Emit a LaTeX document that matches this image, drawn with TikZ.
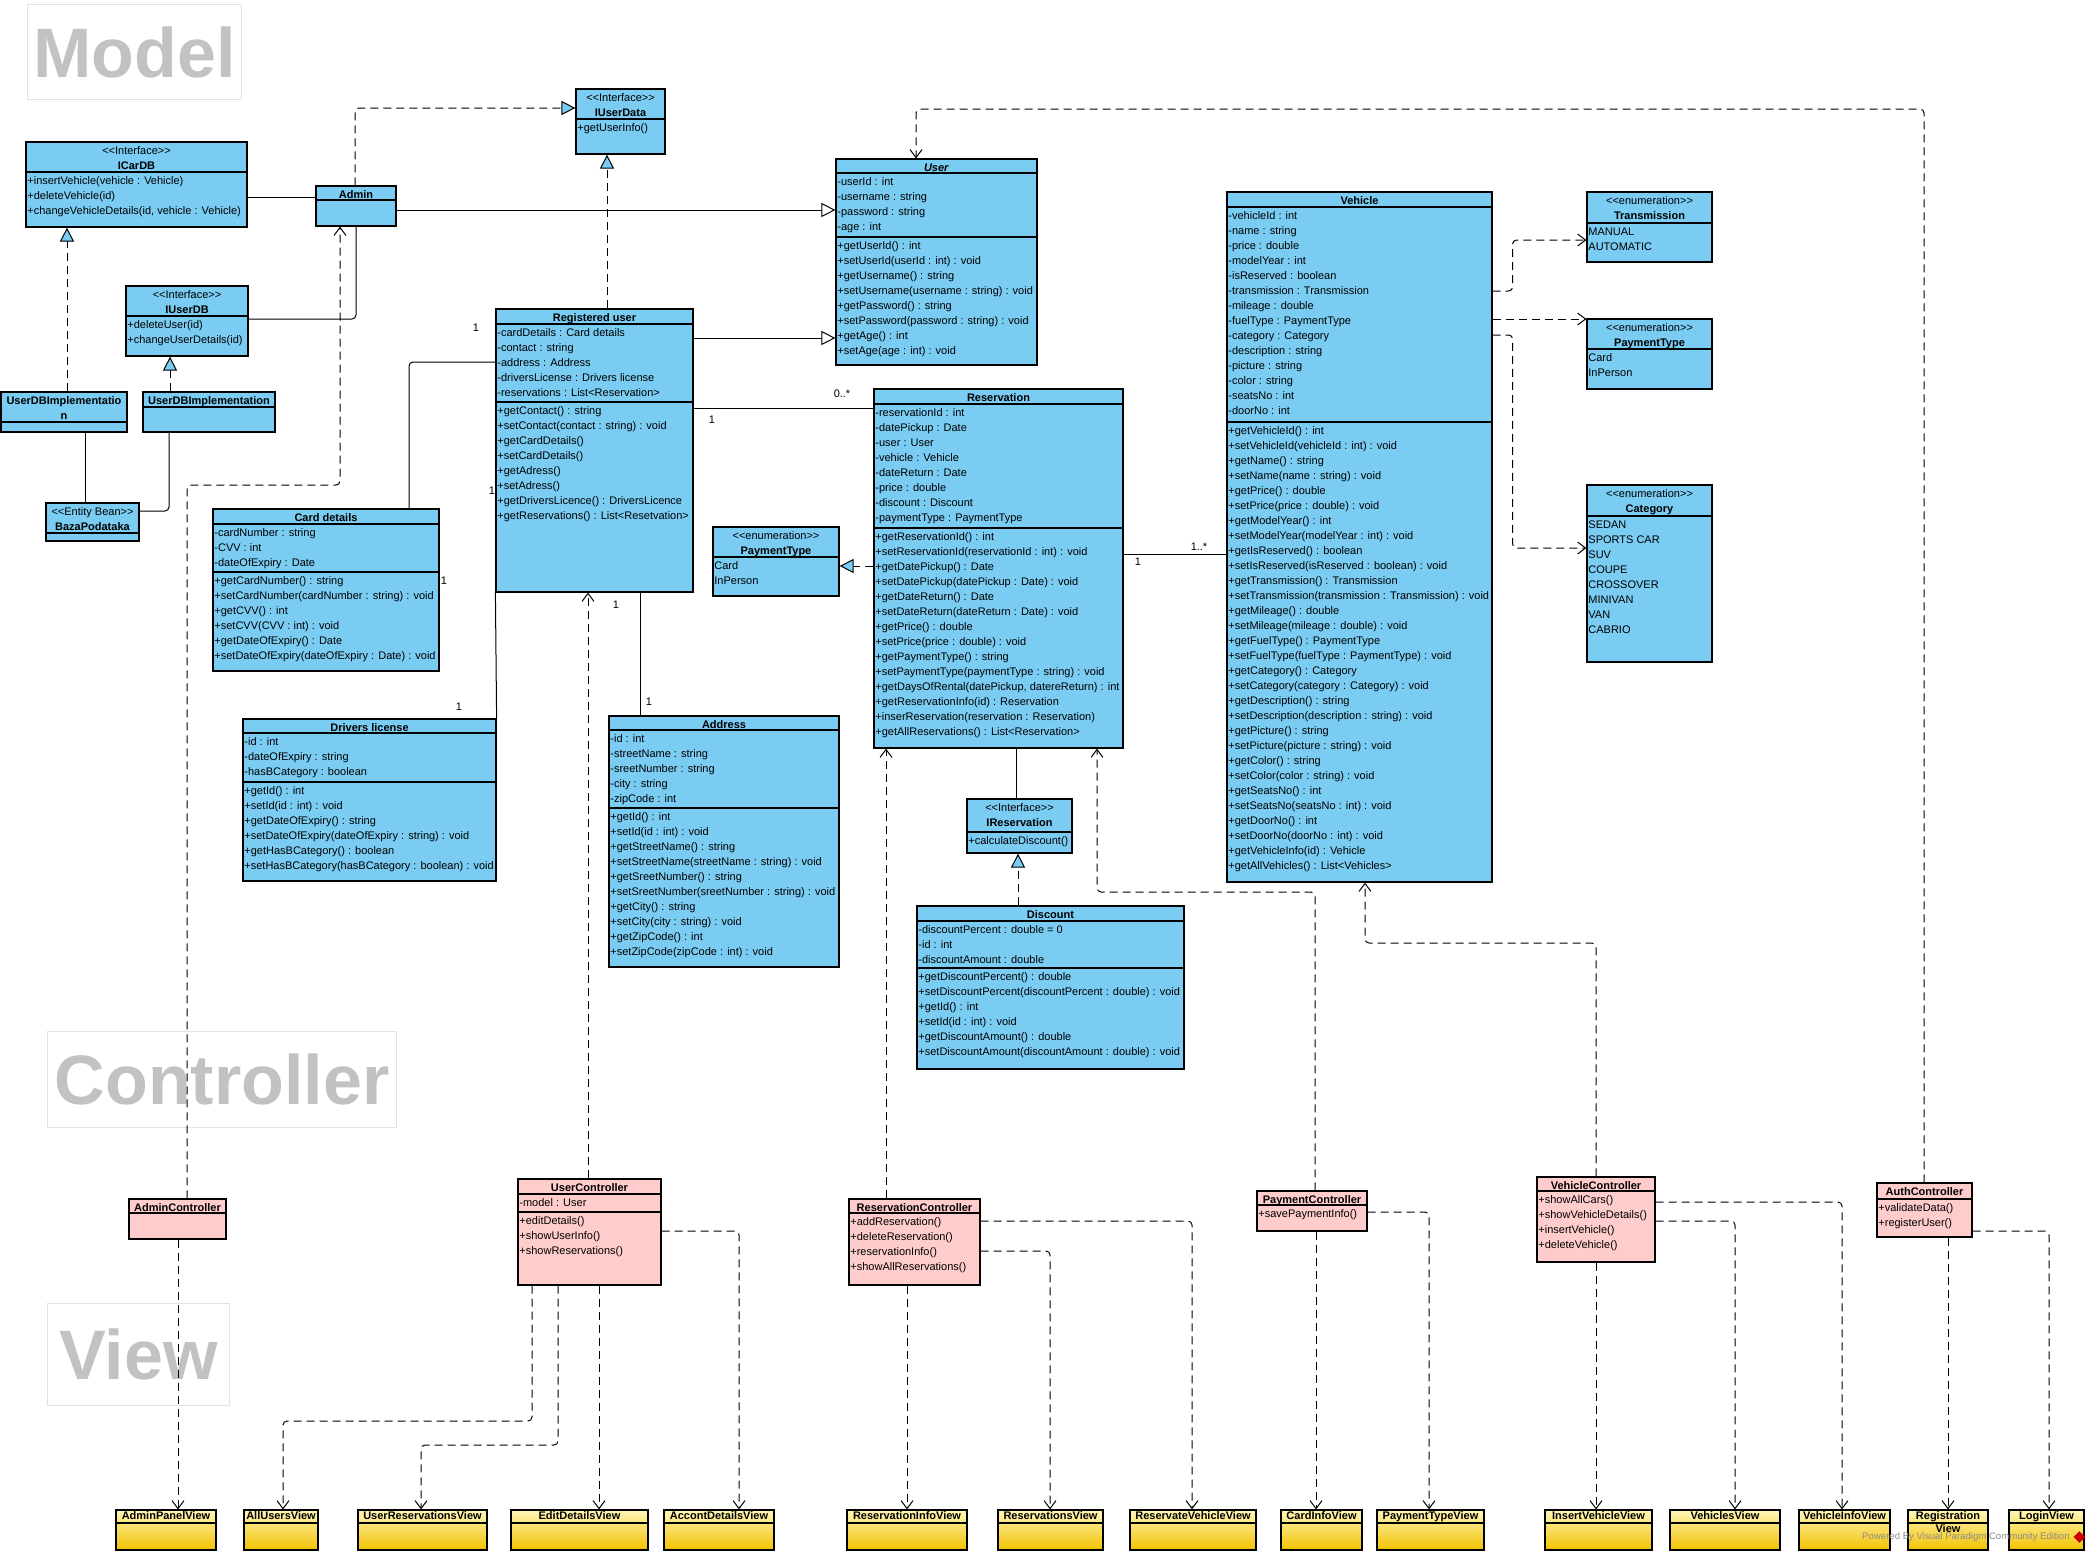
\documentclass[tikz,border=0pt]{standalone}
\usepackage{fontspec}
\setmainfont{Liberation Sans}
\usetikzlibrary{arrows.meta, fit, positioning, shapes.geometric}

\definecolor{clsblue}{HTML}{7ACCF2}
\definecolor{ctlpink}{HTML}{FFCCCC}
\definecolor{viewtop}{HTML}{FFF6B8}
\definecolor{viewbot}{HTML}{F2C200}
\definecolor{lblgray}{HTML}{C2C2C2}
\definecolor{lblframe}{HTML}{E2E2E2}

\newcommand{\stereo}[1]{<{}<#1>{}>}
% class box: name, style, x1, y1, x2, y2, header
\newcommand{\umlcls}[7]{%
  \node[#2, fit={(#3,#4) (#5,#6)}] (#1) {};
  \node[hdr, anchor=north] at (#1.north) {\strut#7};
}
% compartment: box, y of the line, members
\newcommand{\umlsep}[3]{%
  \draw[boxline] (#1.west |- 0,#2) -- (#1.east |- 0,#2);
  \node[members, anchor=north west] at (#1.west |- 0,#2) {\strut#3};
}
% view box: name, x1, x2, title
\newcommand{\umlview}[4]{%
  \node[viewbox, fit={(#2,1510) (#3,1550)}] (#1) {};
  \draw[boxline] (#1.west |- 0,1523) -- (#1.east |- 0,1523);
  \node[vhdr, anchor=north] at (#1.north) {\strut#4};
}

\tikzset{
  boxline/.style={line width=0.6pt},
  clsbox/.style={draw, boxline, fill=clsblue, inner sep=0pt},
  ctlbox/.style={draw, boxline, fill=ctlpink, inner sep=0pt},
  viewbox/.style={draw, boxline, top color=viewtop, bottom color=viewbot, inner sep=0pt},
  hdr/.style={font=\fontsize{5.5}{7.5}\selectfont, align=center, inner sep=1pt},
  vhdr/.style={font=\fontsize{5.5}{6.5}\selectfont\bfseries, align=center, inner sep=0.5pt},
  members/.style={font=\fontsize{5.5}{7.5}\selectfont, align=left, inner xsep=0.8pt, inner ysep=1pt},
  mult/.style={font=\fontsize{5.5}{7.5}\selectfont, inner sep=0pt},
  dashline/.style={dash pattern=on 4pt off 2.5pt},
  assoc/.style={line width=0.5pt},
  gen/.style={line width=0.5pt, -{Triangle[length=7pt, width=7pt, fill=white]}},
  real/.style={line width=0.5pt, dashline, -{Triangle[length=7pt, width=7pt, fill=clsblue]}},
  dep/.style={line width=0.5pt, dashline, rounded corners=2pt, -{Straight Barb[length=4pt, width=6pt]}},
  layerlbl/.style={draw=lblframe, line width=0.6pt, inner sep=0pt, anchor=north west,
    font=\fontsize{35}{40}\selectfont\bfseries, text=lblgray},
}

\begin{document}
\begin{tikzpicture}[x=0.5pt, y=-0.5pt]
  \fill[white] (0,0) rectangle (2092,1553);
  \useasboundingbox (0,0) rectangle (2092,1553);

  % layers
  \node[layerlbl, minimum width=107pt, minimum height=47.5pt] (lblmodel) at (27,4) {Model};
  \node[layerlbl, minimum width=174.5pt, minimum height=48pt] (lblctl) at (47,1031) {Controller};
  \node[layerlbl, minimum width=91pt, minimum height=51pt] (lblview) at (47,1303) {View};

  % ---------------- model ----------------
  \umlcls{icardb}{clsbox}{26}{142}{247}{227}{\stereo{Interface}\\\textbf{ICarDB}}
  \umlsep{icardb}{172}{+insertVehicle(vehicle : Vehicle)\\+deleteVehicle(id)\\+changeVehicleDetails(id, vehicle : Vehicle)}

  \umlcls{admin}{clsbox}{316}{186}{396}{226}{\textbf{Admin}}
  \umlsep{admin}{200}{}

  \umlcls{iuserdata}{clsbox}{576}{89}{665}{154}{\stereo{Interface}\\\textbf{IUserData}}
  \umlsep{iuserdata}{119}{+getUserInfo()}

  \umlcls{iuserdb}{clsbox}{126}{286}{248}{356}{\stereo{Interface}\\\textbf{IUserDB}}
  \umlsep{iuserdb}{316}{+deleteUser(id)\\+changeUserDetails(id)}

  \umlcls{impla}{clsbox}{1}{392}{127}{432}{\textbf{UserDBImplementatio}\\\textbf{n}}
  \umlsep{impla}{422}{}

  \umlcls{implb}{clsbox}{143}{392}{275}{432}{\textbf{UserDBImplementation}}
  \umlsep{implb}{407}{}

  \umlcls{baza}{clsbox}{46}{503}{139}{541}{\stereo{Entity Bean}\\\textbf{BazaPodataka}}
  \umlsep{baza}{533}{}

  \umlcls{user}{clsbox}{836}{159}{1037}{365}{\textbf{\textit{User}}}
  \umlsep{user}{173}{-userId : int\\-username : string\\-password : string\\-age : int}
  \umlsep{user}{237}{+getUserId() : int\\+setUserId(userId : int) : void\\+getUsername() : string\\+setUsername(username : string) : void\\+getPassword() : string\\+setPassword(password : string) : void\\+getAge() : int\\+setAge(age : int) : void}

  \umlcls{veh}{clsbox}{1227}{192}{1492}{882}{\textbf{Vehicle}}
  \umlsep{veh}{207}{-vehicleId : int\\-name : string\\-price : double\\-modelYear : int\\-isReserved : boolean\\-transmission : Transmission\\-mileage : double\\-fuelType : PaymentType\\-category : Category\\-description : string\\-picture : string\\-color : string\\-seatsNo : int\\-doorNo : int}
  \umlsep{veh}{422}{+getVehicleId() : int\\+setVehicleId(vehicleId : int) : void\\+getName() : string\\+setName(name : string) : void\\+getPrice() : double\\+setPrice(price : double) : void\\+getModelYear() : int\\+setModelYear(modelYear : int) : void\\+getIsReserved() : boolean\\+setIsReserved(isReserved : boolean) : void\\+getTransmission() : Transmission\\+setTransmission(transmission : Transmission) : void\\+getMileage() : double\\+setMileage(mileage : double) : void\\+getFuelType() : PaymentType\\+setFuelType(fuelType : PaymentType) : void\\+getCategory() : Category\\+setCategory(category : Category) : void\\+getDescription() : string\\+setDescription(description : string) : void\\+getPicture() : string\\+setPicture(picture : string) : void\\+getColor() : string\\+setColor(color : string) : void\\+getSeatsNo() : int\\+setSeatsNo(seatsNo : int) : void\\+getDoorNo() : int\\+setDoorNo(doorNo : int) : void\\+getVehicleInfo(id) : Vehicle\\+getAllVehicles() : List<Vehicles>}

  \umlcls{trans}{clsbox}{1587}{192}{1712}{262}{\stereo{enumeration}\\\textbf{Transmission}}
  \umlsep{trans}{223}{MANUAL\\AUTOMATIC}

  \umlcls{payenum}{clsbox}{1587}{319}{1712}{389}{\stereo{enumeration}\\\textbf{PaymentType}}
  \umlsep{payenum}{349}{Card\\InPerson}

  \umlcls{categ}{clsbox}{1587}{485}{1712}{662}{\stereo{enumeration}\\\textbf{Category}}
  \umlsep{categ}{516}{SEDAN\\SPORTS CAR\\SUV\\COUPE\\CROSSOVER\\MINIVAN\\VAN\\CABRIO}

  \umlcls{regu}{clsbox}{496}{309}{693}{592}{\textbf{Registered user}}
  \umlsep{regu}{324}{-cardDetails : Card details\\-contact : string\\-address : Address\\-driversLicense : Drivers license\\-reservations : List<Reservation>}
  \umlsep{regu}{402}{+getContact() : string\\+setContact(contact : string) : void\\+getCardDetails()\\+setCardDetails()\\+getAdress()\\+setAdress()\\+getDriversLicence() : DriversLicence\\+getReservations() : List<Resetvation>}

  \umlcls{card}{clsbox}{213}{509}{439}{671}{\textbf{Card details}}
  \umlsep{card}{524}{-cardNumber : string\\-CVV : int\\-dateOfExpiry : Date}
  \umlsep{card}{572}{+getCardNumber() : string\\+setCardNumber(cardNumber : string) : void\\+getCVV() : int\\+setCVV(CVV : int) : void\\+getDateOfExpiry() : Date\\+setDateOfExpiry(dateOfExpiry : Date) : void}

  \umlcls{paymid}{clsbox}{713}{527}{839}{596}{\stereo{enumeration}\\\textbf{PaymentType}}
  \umlsep{paymid}{557}{Card\\InPerson}

  \umlcls{resv}{clsbox}{874}{389}{1123}{748}{\textbf{Reservation}}
  \umlsep{resv}{404}{-reservationId : int\\-datePickup : Date\\-user : User\\-vehicle : Vehicle\\-dateReturn : Date\\-price : double\\-discount : Discount\\-paymentType : PaymentType}
  \umlsep{resv}{528}{+getReservationId() : int\\+setReservationId(reservationId : int) : void\\+getDatePickup() : Date\\+setDatePickup(datePickup : Date) : void\\+getDateReturn() : Date\\+setDateReturn(dateReturn : Date) : void\\+getPrice() : double\\+setPrice(price : double) : void\\+getPaymentType() : string\\+setPaymentType(paymentType : string) : void\\+getDaysOfRental(datePickup, datereReturn) : int\\+getReservationInfo(id) : Reservation\\+inserReservation(reservation : Reservation)\\+getAllReservations() : List<Reservation>}

  \umlcls{drv}{clsbox}{243}{719}{496}{881}{\textbf{Drivers license}}
  \umlsep{drv}{733}{-id : int\\-dateOfExpiry : string\\-hasBCategory : boolean}
  \umlsep{drv}{782}{+getId() : int\\+setId(id : int) : void\\+getDateOfExpiry() : string\\+setDateOfExpiry(dateOfExpiry : string) : void\\+getHasBCategory() : boolean\\+setHasBCategory(hasBCategory : boolean) : void}

  \umlcls{addr}{clsbox}{609}{716}{839}{967}{\textbf{Address}}
  \umlsep{addr}{730}{-id : int\\-streetName : string\\-sreetNumber : string\\-city : string\\-zipCode : int}
  \umlsep{addr}{808}{+getId() : int\\+setId(id : int) : void\\+getStreetName() : string\\+setStreetName(streetName : string) : void\\+getSreetNumber() : string\\+setSreetNumber(sreetNumber : string) : void\\+getCity() : string\\+setCity(city : string) : void\\+getZipCode() : int\\+setZipCode(zipCode : int) : void}

  \umlcls{ires}{clsbox}{967}{799}{1072}{853}{\stereo{Interface}\\\textbf{IReservation}}
  \umlsep{ires}{832}{+calculateDiscount()}

  \umlcls{disc}{clsbox}{917}{906}{1184}{1069}{\textbf{Discount}}
  \umlsep{disc}{921}{-discountPercent : double = 0\\-id : int\\-discountAmount : double}
  \umlsep{disc}{968}{+getDiscountPercent() : double\\+setDiscountPercent(discountPercent : double) : void\\+getId() : int\\+setId(id : int) : void\\+getDiscountAmount() : double\\+setDiscountAmount(discountAmount : double) : void}

  % ---------------- controllers ----------------
  \umlcls{actl}{ctlbox}{129}{1199}{226}{1239}{\textbf{AdminController}}
  \umlsep{actl}{1213}{}

  \umlcls{uctl}{ctlbox}{518}{1179}{661}{1285}{\textbf{UserController}}
  \umlsep{uctl}{1194}{-model : User}
  \umlsep{uctl}{1212}{+editDetails()\\+showUserInfo()\\+showReservations()}

  \umlcls{rctl}{ctlbox}{849}{1199}{980}{1285}{\textbf{ReservationController}}
  \umlsep{rctl}{1213}{+addReservation()\\+deleteReservation()\\+reservationInfo()\\+showAllReservations()}

  \umlcls{pctl}{ctlbox}{1257}{1191}{1367}{1231}{\textbf{PaymentController}}
  \umlsep{pctl}{1205}{+savePaymentInfo()}

  \umlcls{vctl}{ctlbox}{1537}{1177}{1655}{1262}{\textbf{VehicleController}}
  \umlsep{vctl}{1191}{+showAllCars()\\+showVehicleDetails()\\+insertVehicle()\\+deleteVehicle()}

  \umlcls{auctl}{ctlbox}{1877}{1183}{1972}{1237}{\textbf{AuthController}}
  \umlsep{auctl}{1199}{+validateData()\\+registerUser()}

  % ---------------- views ----------------
  \umlview{vadmin}{116}{216}{AdminPanelView}
  \umlview{vallusr}{244}{318}{AllUsersView}
  \umlview{vusrres}{358}{487}{UserReservationsView}
  \umlview{vedit}{511}{648}{EditDetailsView}
  \umlview{vaccnt}{664}{774}{AccontDetailsView}
  \umlview{vresinfo}{847}{967}{ReservationInfoView}
  \umlview{vresv}{998}{1103}{ReservationsView}
  \umlview{vreserve}{1130}{1256}{ReservateVehicleView}
  \umlview{vcard}{1281}{1362}{CardInfoView}
  \umlview{vpaytype}{1377}{1484}{PaymentTypeView}
  \umlview{vinsert}{1545}{1652}{InsertVehicleView}
  \umlview{vvehs}{1670}{1780}{VehiclesView}
  \umlview{vvinfo}{1799}{1890}{VehicleInfoView}
  \umlview{vreg}{1908}{1988}{Registration\\View}
  \umlview{vlogin}{2009}{2084}{LoginView}

  % ---------------- model connectors ----------------
  \draw[assoc] (icardb.east |- 0,197) -- (admin.west |- 0,197);
  \draw[real, rounded corners=2pt] (admin.north -| 355,0) |- (iuserdata.west |- 0,108);
  \draw[gen] (admin.east |- 0,210) -- (user.west |- 0,210);
  \draw[assoc, rounded corners=2pt] (iuserdb.east |- 0,319) -| (admin.south -| 356,0);
  \draw[real] (impla.north -| 67,0) -- (icardb.south -| 67,0);
  \draw[real] (implb.north -| 170,0) -- (iuserdb.south -| 170,0);
  \draw[assoc] (impla.south -| 85,0) -- (baza.north -| 85,0);
  \draw[assoc, rounded corners=2pt] (implb.south -| 169,0) |- (baza.east |- 0,511);
  \draw[real] (regu.north -| 607,0) -- (iuserdata.south -| 607,0);
  \draw[gen] (regu.east |- 0,338) -- (user.west |- 0,338);
  \draw[assoc, rounded corners=2pt] (regu.west |- 0,362) -| (card.north -| 409,0);
  \draw[assoc] (regu.east |- 0,408) -- (resv.west |- 0,408);
  \draw[assoc] (regu.south west) -- (drv.north east);
  \draw[assoc] (regu.south -| 640,0) -- (addr.north -| 640,0);
  \draw[real] (resv.west |- 0,566) -- (paymid.east |- 0,566);
  \draw[assoc] (resv.east |- 0,554) -- (veh.west |- 0,554);
  \draw[assoc] (resv.south -| 1016,0) -- (ires.north -| 1016,0);
  \draw[real] (disc.north -| 1018,0) -- (ires.south -| 1018,0);
  \draw[dep] (veh.east |- 0,291) -- ++(20,0) |- (trans.west |- 0,240);
  \draw[dep] (veh.east |- 0,319) -- (payenum.west |- 0,319);
  \draw[dep] (veh.east |- 0,335) -- ++(20,0) |- (categ.west |- 0,548);

  % multiplicities
  \node[mult] (m1) at (476,328) {1};
  \node[mult] (m2) at (492,491) {1};
  \node[mult] (m3) at (444,581) {1};
  \node[mult] (m4) at (459,707) {1};
  \node[mult] (m5) at (616,605) {1};
  \node[mult] (m6) at (649,702) {1};
  \node[mult] (m7) at (712,420) {1};
  \node[mult] (m8) at (842,394) {0..*};
  \node[mult] (m9) at (1138,562) {1};
  \node[mult] (m10) at (1199,547) {1..*};

  % ---------------- controllers to model ----------------
  \draw[dep] (actl.north -| 187,0) |- (340,485) -- (admin.south -| 340,0);
  \draw[dep] (uctl.north -| 588,0) -- (regu.south -| 588,0);
  \draw[dep] (rctl.north -| 886,0) -- (resv.south -| 886,0);
  \draw[dep] (pctl.north -| 1315,0) |- (1097,892) -- (resv.south -| 1097,0);
  \draw[dep] (vctl.north -| 1596,0) |- (1365,943) -- (veh.south -| 1365,0);
  \draw[dep] (auctl.north -| 1924,0) |- (916,109) -- (user.north -| 916,0);

  % ---------------- controllers to views ----------------
  \draw[dep] (actl.south -| 178,0) -- (vadmin.north -| 178,0);
  \draw[dep] (uctl.south -| 532,0) |- (283,1421) -- (vallusr.north -| 283,0);
  \draw[dep] (uctl.south -| 558,0) |- (421,1445) -- (vusrres.north -| 421,0);
  \draw[dep] (uctl.south -| 599,0) -- (vedit.north -| 599,0);
  \draw[dep] (uctl.east |- 0,1231) -| (vaccnt.north -| 739,0);
  \draw[dep] (rctl.south -| 907,0) -- (vresinfo.north -| 907,0);
  \draw[dep] (rctl.east |- 0,1251) -| (vresv.north -| 1050,0);
  \draw[dep] (rctl.east |- 0,1221) -| (vreserve.north -| 1192,0);
  \draw[dep] (pctl.south -| 1316,0) -- (vcard.north -| 1316,0);
  \draw[dep] (pctl.east |- 0,1212) -| (vpaytype.north -| 1429,0);
  \draw[dep] (vctl.south -| 1596,0) -- (vinsert.north -| 1596,0);
  \draw[dep] (vctl.east |- 0,1221) -| (vvehs.north -| 1735,0);
  \draw[dep] (vctl.east |- 0,1202) -| (vvinfo.north -| 1842,0);
  \draw[dep] (auctl.south -| 1948,0) -- (vreg.north -| 1948,0);
  \draw[dep] (auctl.east |- 0,1231) -| (vlogin.north -| 2049,0);

  % watermark
  \node[anchor=east, inner sep=0pt, font=\fontsize{4.8}{5}\selectfont, text=black!45] (wmark) at (2070,1537) {Powered By Visual Paradigm Community Edition};
  \node[diamond, fill=red!80!black, minimum size=6pt, inner sep=0pt, right=1.5pt of wmark] (vplogo) {};
\end{tikzpicture}
\end{document}
